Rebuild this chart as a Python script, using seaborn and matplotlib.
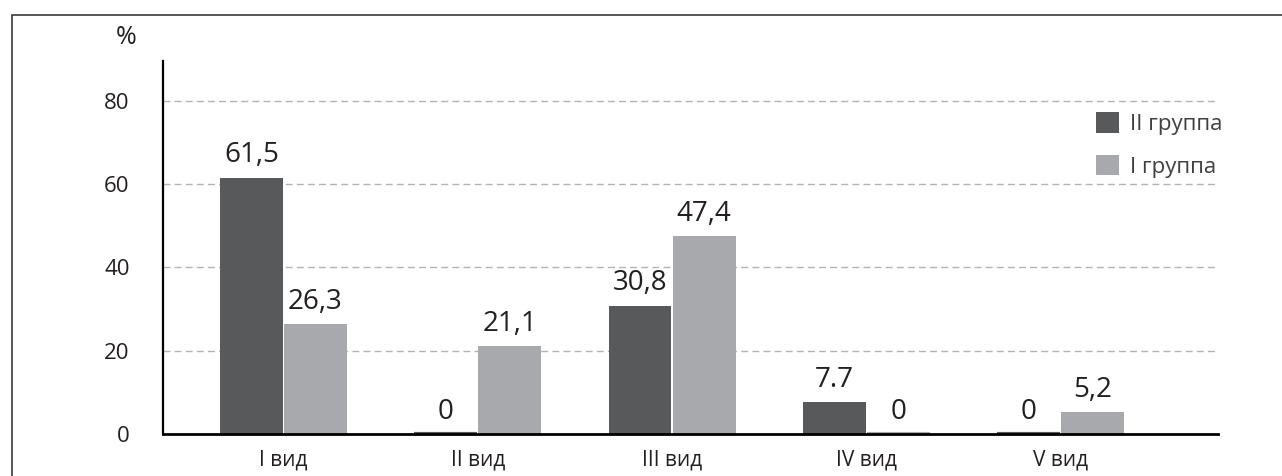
import matplotlib
matplotlib.use("Agg")
import matplotlib.pyplot as plt
from matplotlib.patches import Rectangle
import seaborn as sns
import pandas as pd

# Categories and series
categories = ["I вид", "II вид", "III вид", "IV вид", "V вид"]
groups = ["II группа", "I группа"]
group2_values = [61.5, 0.0, 30.8, 7.7, 0.0]
group1_values = [26.3, 21.1, 47.4, 0.0, 5.2]
group2_labels = ["61,5", "0", "30,8", "7.7", "0"]
group1_labels = ["26,3", "21,1", "47,4", "0", "5,2"]
y_ticks = [0, 20, 40, 60, 80]

dark = "#58595b"
light = "#a7a9ac"
text_color = "#231f20"

df = pd.DataFrame({
    "category": categories * 2,
    "group": [groups[0]] * len(categories) + [groups[1]] * len(categories),
    "value": group2_values + group1_values,
})

sns.set_theme(style="white")
plt.rcParams["font.family"] = ["Open Sans", "DejaVu Sans"]

fig = plt.figure(figsize=(12.82, 4.76), dpi=100)
ax = fig.add_axes([0.1271, 0.0882, 0.8230, 0.7836])

sns.barplot(data=df, x="category", y="value", hue="group",
            hue_order=groups, order=categories,
            palette=[dark, light], width=0.66, gap=0.02,
            edgecolor="none", linewidth=0, saturation=1,
            ax=ax)

# zero-valued bars keep a thin slab on the baseline
for cont, col in zip(ax.containers, [dark, light]):
    for patch in cont:
        if patch.get_height() == 0:
            patch.set_edgecolor(col)
            patch.set_linewidth(3)
            patch.set_zorder(3)

for cont, labels in zip(ax.containers, [group2_labels, group1_labels]):
    ax.bar_label(cont, labels=labels, padding=6, fontsize=20,
                 color=text_color)

ax.set_xlim(-0.62, 4.81)
ax.set_ylim(0, 89.5)
ax.set_yticks(y_ticks)
ax.set_yticklabels([str(t) for t in y_ticks], fontsize=16, color=text_color)
ax.tick_params(axis="y", length=0, pad=24)
ax.tick_params(axis="x", length=0, pad=11)
for lbl in ax.get_xticklabels():
    lbl.set_fontsize(15)
    lbl.set_color(text_color)
    lbl.set_fontfamily(["Liberation Sans Narrow", "Open Sans", "DejaVu Sans"])
ax.set_xlabel("")
ax.set_ylabel("")

ax.yaxis.grid(True, color="#b3b3b3", linestyle=(0, (5, 3)), linewidth=1)
ax.set_axisbelow(True)

for side in ["top", "right"]:
    ax.spines[side].set_visible(False)
ax.spines["left"].set_color("black")
ax.spines["left"].set_linewidth(1.6)
ax.spines["bottom"].set_color("black")
ax.spines["bottom"].set_linewidth(2)
ax.spines["bottom"].set_zorder(4)

ax.text(-0.035, 1.062, "%", transform=ax.transAxes, fontsize=18,
        color=text_color, ha="center", va="center")

ax.legend(loc="upper left", bbox_to_anchor=(0.865, 0.917), frameon=False,
          fontsize=16, handlelength=1.05, handleheight=1.05,
          labelspacing=0.9, handletextpad=0.5, labelcolor="#404040")

# outer frame around the figure
fig.patches.append(Rectangle((12 / 1282, -0.1), 1.2, 1 - 15 / 476 + 0.1,
                             transform=fig.transFigure, fill=False,
                             edgecolor="#3a3a3a", linewidth=1.2))

fig.savefig("out.png", dpi=100)
